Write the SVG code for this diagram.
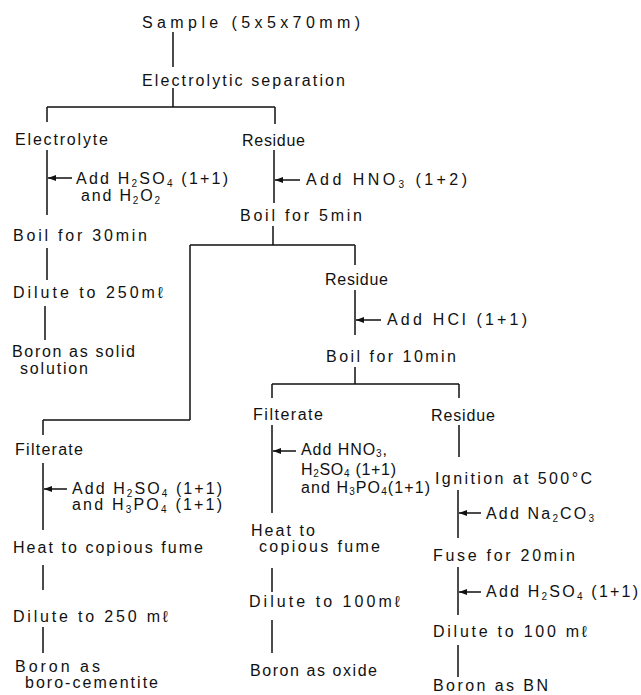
<svg xmlns="http://www.w3.org/2000/svg" width="641" height="695" viewBox="0 0 641 695">
<style>
text{font-family:"Liberation Sans",Arial,sans-serif;font-size:16px;fill:#111}
.s{font-size:10px}
.c line,.c path{stroke:#111;stroke-width:1.5;fill:none}
.a{stroke:#111;stroke-width:1.2;fill:none}
</style>
<defs>
<marker id="ah" viewBox="0 0 8 6" refX="8" refY="3" markerWidth="8" markerHeight="6" markerUnits="userSpaceOnUse" orient="auto">
<path d="M0,0 L8,3 L0,6 Z" fill="#111"/>
</marker>
</defs>
<rect width="641" height="695" fill="#fff"/>
<g id="connectors" class="c">
<path d="M173 32V67M173 88V107M47 107H275M47 107V122M275 107V124"/>
<path d="M47 150V215M47 248V280M45 306V340"/>
<path d="M274 150V203M273 226V245M190 245H355M190 245V420M355 245V265M43 420H190M43 420V435"/>
<path d="M43 463V530M43 565V590M43 627V653"/>
<path d="M355 290V335M355 367V384M272 384H459M272 384V398M459 384V398"/>
<path d="M272 425V513M272 568V592M272 620V653"/>
<path d="M459 425V457M458 490V538M458 567V615M458 645V677"/>
<g class="arrows">
<line class="a" x1="72" y1="178" x2="48" y2="178" marker-end="url(#ah)"/>
<line class="a" x1="300" y1="180" x2="275" y2="180" marker-end="url(#ah)"/>
<line class="a" x1="381" y1="320" x2="356" y2="320" marker-end="url(#ah)"/>
<line class="a" x1="296" y1="451" x2="273" y2="451" marker-end="url(#ah)"/>
<line class="a" x1="67" y1="489" x2="44" y2="489" marker-end="url(#ah)"/>
<line class="a" x1="481" y1="513" x2="459" y2="513" marker-end="url(#ah)"/>
<line class="a" x1="481" y1="592" x2="459" y2="592" marker-end="url(#ah)"/>
</g>
</g>
<g id="sample"><text x="142" y="28" textLength="218" lengthAdjust="spacing">Sample  (5x5x70mm)</text></g>
<g id="electrolytic"><text x="142" y="86" textLength="203" lengthAdjust="spacing">Electrolytic  separation</text></g>
<g id="electrolyte"><text x="15" y="145" textLength="93" lengthAdjust="spacing">Electrolyte</text></g>
<g id="add1"><text x="76" y="184" textLength="152" lengthAdjust="spacing">Add  H<tspan class="s" dy="3">2</tspan><tspan dy="-3">SO</tspan><tspan class="s" dy="3">4</tspan><tspan dy="-3"> (1+1)</tspan></text>
<text x="81" y="201" textLength="79" lengthAdjust="spacing">and  H<tspan class="s" dy="3">2</tspan><tspan dy="-3">O</tspan><tspan class="s" dy="3">2</tspan></text></g>
<g id="boil30"><text x="13" y="241" textLength="134" lengthAdjust="spacing">Boil  for  30min</text></g>
<g id="dilute250a"><text x="13" y="298" textLength="150" lengthAdjust="spacing">Dilute  to  250mℓ</text></g>
<g id="solid"><text x="12" y="357" textLength="123" lengthAdjust="spacing">Boron  as  solid</text>
<text x="20" y="374" textLength="68" lengthAdjust="spacing">solution</text></g>
<g id="residue1"><text x="242" y="146" textLength="63" lengthAdjust="spacing">Residue</text></g>
<g id="add2"><text x="306" y="185" textLength="161" lengthAdjust="spacing">Add  HNO<tspan class="s" dy="3">3</tspan><tspan dy="-3"> (1+2)</tspan></text></g>
<g id="boil5"><text x="240" y="221" textLength="122" lengthAdjust="spacing">Boil  for  5min</text></g>
<g id="residue2"><text x="325" y="285" textLength="63" lengthAdjust="spacing">Residue</text></g>
<g id="add3"><text x="387" y="325" textLength="140" lengthAdjust="spacing">Add  HCl  (1+1)</text></g>
<g id="boil10"><text x="326" y="362" textLength="130" lengthAdjust="spacing">Boil  for  10min</text></g>
<g id="filterate2"><text x="253" y="420" textLength="70" lengthAdjust="spacing">Filterate</text></g>
<g id="residue3"><text x="431" y="421" textLength="64" lengthAdjust="spacing">Residue</text></g>
<g id="add4"><text x="301" y="455" textLength="86" lengthAdjust="spacing">Add  HNO<tspan class="s" dy="2">3</tspan><tspan dy="-2">,</tspan></text>
<text x="301" y="475" textLength="95" lengthAdjust="spacing">H<tspan class="s" dy="2">2</tspan><tspan dy="-2">SO</tspan><tspan class="s" dy="2">4</tspan><tspan dy="-2"> (1+1)</tspan></text>
<text x="301" y="493" textLength="129" lengthAdjust="spacing">and  H<tspan class="s" dy="2">3</tspan><tspan dy="-2">PO</tspan><tspan class="s" dy="2">4</tspan><tspan dy="-2">(1+1)</tspan></text></g>
<g id="ignition"><text x="435" y="484" textLength="157" lengthAdjust="spacing">Ignition  at  500°C</text></g>
<g id="filterate1"><text x="15" y="455" textLength="68" lengthAdjust="spacing">Filterate</text></g>
<g id="add5"><text x="72" y="494" textLength="150" lengthAdjust="spacing">Add  H<tspan class="s" dy="3">2</tspan><tspan dy="-3">SO</tspan><tspan class="s" dy="3">4</tspan><tspan dy="-3"> (1+1)</tspan></text>
<text x="72" y="510" textLength="150" lengthAdjust="spacing">and  H<tspan class="s" dy="3">3</tspan><tspan dy="-3">PO</tspan><tspan class="s" dy="3">4</tspan><tspan dy="-3"> (1+1)</tspan></text></g>
<g id="heat1"><text x="13" y="553" textLength="190" lengthAdjust="spacing">Heat  to  copious  fume</text></g>
<g id="dilute250b"><text x="13" y="622" textLength="155" lengthAdjust="spacing">Dilute  to  250  mℓ</text></g>
<g id="cementite"><text x="15" y="672" textLength="85" lengthAdjust="spacing">Boron  as</text>
<text x="25" y="688" textLength="133" lengthAdjust="spacing">boro-cementite</text></g>
<g id="heat2"><text x="251" y="536" textLength="64" lengthAdjust="spacing">Heat  to</text>
<text x="259" y="552" textLength="121" lengthAdjust="spacing">copious  fume</text></g>
<g id="dilute100a"><text x="249" y="607" textLength="151" lengthAdjust="spacing">Dilute  to  100mℓ</text></g>
<g id="oxide"><text x="250" y="676" textLength="127" lengthAdjust="spacing">Boron  as  oxide</text></g>
<g id="add6"><text x="486" y="519" textLength="108" lengthAdjust="spacing">Add  Na<tspan class="s" dy="3">2</tspan><tspan dy="-3">CO</tspan><tspan class="s" dy="3">3</tspan></text></g>
<g id="fuse"><text x="433" y="561" textLength="142" lengthAdjust="spacing">Fuse  for  20min</text></g>
<g id="add7"><text x="486" y="597" textLength="152" lengthAdjust="spacing">Add  H<tspan class="s" dy="3">2</tspan><tspan dy="-3">SO</tspan><tspan class="s" dy="3">4</tspan><tspan dy="-3"> (1+1)</tspan></text></g>
<g id="dilute100b"><text x="433" y="637" textLength="154" lengthAdjust="spacing">Dilute  to  100  mℓ</text></g>
<g id="bn"><text x="433" y="691" textLength="115" lengthAdjust="spacing">Boron  as  BN</text></g>
</svg>
